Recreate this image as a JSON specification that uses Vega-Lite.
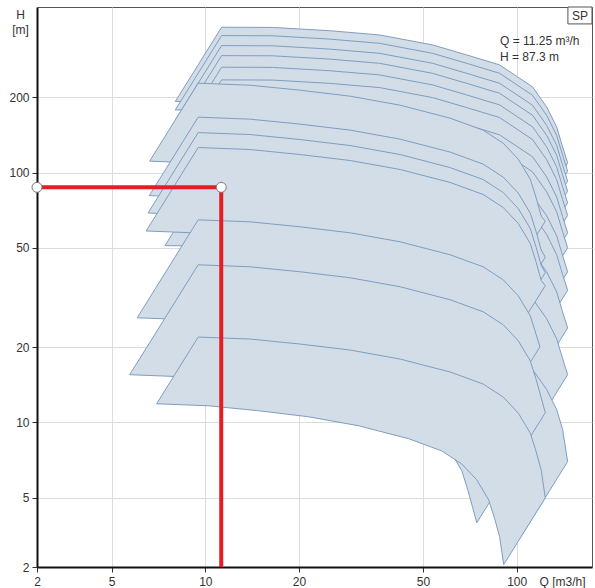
{
"$schema": "https://vega.github.io/schema/vega-lite/v6.json",
"width": 555, "height": 560,
"autosize": {"type": "none"},
"padding": {"left": 37, "top": 7, "right": 3, "bottom": 21},
"background": "white",
"config": {"view": {"stroke": "#555", "strokeWidth": 1}, "font": "Liberation Sans"},
"datasets": {
"poly": [
{"p":1,"q":11.28,"h":381.8},{"p":1,"q":16.45,"h":381.1},{"p":1,"q":25.07,"h":369.7},{"p":1,"q":36.28,"h":355.6},{"p":1,"q":53.73,"h":324.3},{"p":1,"q":69.07,"h":295.8},{"p":1,"q":88.16,"h":269.8},{"p":1,"q":112.5,"h":220.3},{"p":1,"q":124.8,"h":183.3},{"p":1,"q":134.4,"h":152.5},{"p":1,"q":140.5,"h":126.8},{"p":1,"q":145.8,"h":109.4},{"p":1,"q":103.5,"h":55.1},{"p":1,"q":99.76,"h":63.9},{"p":1,"q":95.42,"h":76.9},{"p":1,"q":88.61,"h":92.4},{"p":1,"q":79.88,"h":111.1},{"p":1,"q":62.59,"h":136},{"p":1,"q":49.04,"h":149.1},{"p":1,"q":38.15,"h":163.5},{"p":1,"q":25.76,"h":179.3},{"p":1,"q":17.8,"h":186.4},{"p":1,"q":11.68,"h":192.1},{"p":1,"q":8.009,"h":192.5},{"p":1,"q":11.28,"h":381.8},
{"p":2,"q":11.28,"h":353.4},{"p":2,"q":16.45,"h":352.8},{"p":2,"q":25.07,"h":342.2},{"p":2,"q":36.28,"h":329.2},{"p":2,"q":53.73,"h":300.2},{"p":2,"q":69.07,"h":273.8},{"p":2,"q":88.16,"h":249.7},{"p":2,"q":112.5,"h":203.9},{"p":2,"q":124.8,"h":169.7},{"p":2,"q":134.4,"h":141.1},{"p":2,"q":140.5,"h":117.4},{"p":2,"q":145.8,"h":101.3},{"p":2,"q":103.5,"h":51.1},{"p":2,"q":99.76,"h":59.2},{"p":2,"q":95.42,"h":71.1},{"p":2,"q":88.61,"h":85.5},{"p":2,"q":79.88,"h":102.8},{"p":2,"q":62.59,"h":125.9},{"p":2,"q":49.04,"h":138},{"p":2,"q":38.15,"h":151.3},{"p":2,"q":25.76,"h":166},{"p":2,"q":17.8,"h":172.5},{"p":2,"q":11.68,"h":177.8},{"p":2,"q":8.009,"h":178.2},{"p":2,"q":11.28,"h":353.4},
{"p":3,"q":11.28,"h":322.3},{"p":3,"q":16.45,"h":321.7},{"p":3,"q":25.07,"h":312.1},{"p":3,"q":36.28,"h":300.2},{"p":3,"q":53.73,"h":273.8},{"p":3,"q":69.07,"h":249.7},{"p":3,"q":88.16,"h":227.7},{"p":3,"q":112.5,"h":186},{"p":3,"q":124.8,"h":154.7},{"p":3,"q":134.4,"h":128.7},{"p":3,"q":140.5,"h":107},{"p":3,"q":145.8,"h":92.4},{"p":3,"q":103.5,"h":46.6},{"p":3,"q":99.76,"h":53.9},{"p":3,"q":95.42,"h":64.9},{"p":3,"q":88.61,"h":78},{"p":3,"q":79.88,"h":93.8},{"p":3,"q":62.59,"h":114.8},{"p":3,"q":49.04,"h":125.9},{"p":3,"q":38.15,"h":138},{"p":3,"q":25.76,"h":151.3},{"p":3,"q":17.8,"h":157.3},{"p":3,"q":11.68,"h":162.2},{"p":3,"q":8.009,"h":162.5},{"p":3,"q":11.28,"h":322.3},
{"p":4,"q":11.28,"h":293.9},{"p":4,"q":16.45,"h":293.4},{"p":4,"q":25.07,"h":284.6},{"p":4,"q":36.28,"h":273.8},{"p":4,"q":53.73,"h":249.6},{"p":4,"q":69.07,"h":227.7},{"p":4,"q":88.16,"h":207.7},{"p":4,"q":112.5,"h":169.6},{"p":4,"q":124.8,"h":141.1},{"p":4,"q":134.4,"h":117.4},{"p":4,"q":140.5,"h":97.6},{"p":4,"q":145.8,"h":84.2},{"p":4,"q":103.5,"h":42.4},{"p":4,"q":99.76,"h":49.2},{"p":4,"q":95.42,"h":59.2},{"p":4,"q":88.61,"h":71.1},{"p":4,"q":79.88,"h":85.5},{"p":4,"q":62.59,"h":104.7},{"p":4,"q":49.04,"h":114.8},{"p":4,"q":38.15,"h":125.8},{"p":4,"q":25.76,"h":138},{"p":4,"q":17.8,"h":143.5},{"p":4,"q":11.68,"h":147.9},{"p":4,"q":8.009,"h":148.2},{"p":4,"q":11.28,"h":293.9},
{"p":5,"q":11.28,"h":264.1},{"p":5,"q":16.45,"h":263.6},{"p":5,"q":25.07,"h":255.7},{"p":5,"q":36.28,"h":246},{"p":5,"q":53.73,"h":224.3},{"p":5,"q":69.07,"h":204.6},{"p":5,"q":88.16,"h":186.6},{"p":5,"q":112.5,"h":152.4},{"p":5,"q":124.8,"h":126.8},{"p":5,"q":134.4,"h":105.5},{"p":5,"q":140.5,"h":87.7},{"p":5,"q":145.8,"h":75.7},{"p":5,"q":103.5,"h":38.2},{"p":5,"q":99.76,"h":44.2},{"p":5,"q":95.42,"h":53.2},{"p":5,"q":88.61,"h":63.9},{"p":5,"q":79.88,"h":76.8},{"p":5,"q":62.59,"h":94.1},{"p":5,"q":49.04,"h":103.1},{"p":5,"q":38.15,"h":113.1},{"p":5,"q":25.76,"h":124},{"p":5,"q":17.8,"h":128.9},{"p":5,"q":11.68,"h":132.9},{"p":5,"q":8.009,"h":133.1},{"p":5,"q":11.28,"h":264.1},
{"p":6,"q":11.28,"h":235},{"p":6,"q":16.45,"h":234.6},{"p":6,"q":25.07,"h":227.6},{"p":6,"q":36.28,"h":218.9},{"p":6,"q":53.73,"h":199.6},{"p":6,"q":69.07,"h":182.1},{"p":6,"q":88.16,"h":166.1},{"p":6,"q":112.5,"h":135.6},{"p":6,"q":124.8,"h":112.8},{"p":6,"q":134.4,"h":93.8},{"p":6,"q":140.5,"h":78},{"p":6,"q":145.8,"h":67.4},{"p":6,"q":103.5,"h":34},{"p":6,"q":99.76,"h":39.3},{"p":6,"q":95.42,"h":47.3},{"p":6,"q":88.61,"h":56.9},{"p":6,"q":79.88,"h":68.4},{"p":6,"q":62.59,"h":83.7},{"p":6,"q":49.04,"h":91.8},{"p":6,"q":38.15,"h":100.6},{"p":6,"q":25.76,"h":110.3},{"p":6,"q":17.8,"h":114.7},{"p":6,"q":11.68,"h":118.3},{"p":6,"q":8.009,"h":118.5},{"p":6,"q":11.28,"h":235},
{"p":7,"q":11.28,"h":200.4},{"p":7,"q":16.45,"h":200},{"p":7,"q":25.07,"h":194},{"p":7,"q":36.28,"h":186.7},{"p":7,"q":53.73,"h":170.2},{"p":7,"q":69.07,"h":155.3},{"p":7,"q":88.16,"h":141.6},{"p":7,"q":112.5,"h":115.7},{"p":7,"q":124.8,"h":96.2},{"p":7,"q":134.4,"h":80},{"p":7,"q":140.5,"h":66.6},{"p":7,"q":145.8,"h":57.4},{"p":7,"q":103.5,"h":28.9},{"p":7,"q":99.76,"h":33.6},{"p":7,"q":95.42,"h":40.3},{"p":7,"q":88.61,"h":48.5},{"p":7,"q":79.88,"h":58.3},{"p":7,"q":62.59,"h":71.4},{"p":7,"q":49.04,"h":78.3},{"p":7,"q":38.15,"h":85.8},{"p":7,"q":25.76,"h":94.1},{"p":7,"q":17.8,"h":97.8},{"p":7,"q":11.68,"h":100.8},{"p":7,"q":8.009,"h":101},{"p":7,"q":11.28,"h":200.4},
{"p":8,"q":11.28,"h":174.5},{"p":8,"q":16.45,"h":174.2},{"p":8,"q":25.07,"h":169},{"p":8,"q":36.28,"h":162.5},{"p":8,"q":53.73,"h":148.2},{"p":8,"q":69.07,"h":135.2},{"p":8,"q":88.16,"h":123.3},{"p":8,"q":112.5,"h":100.7},{"p":8,"q":124.8,"h":83.8},{"p":8,"q":134.4,"h":69.7},{"p":8,"q":140.5,"h":58},{"p":8,"q":145.8,"h":50},{"p":8,"q":103.5,"h":25.2},{"p":8,"q":99.76,"h":29.2},{"p":8,"q":95.42,"h":35.1},{"p":8,"q":88.61,"h":42.2},{"p":8,"q":79.88,"h":50.8},{"p":8,"q":62.59,"h":62.2},{"p":8,"q":49.04,"h":68.2},{"p":8,"q":38.15,"h":74.7},{"p":8,"q":25.76,"h":81.9},{"p":8,"q":17.8,"h":85.2},{"p":8,"q":11.68,"h":87.8},{"p":8,"q":8.009,"h":88},{"p":8,"q":11.28,"h":174.5},
{"p":9,"q":11.28,"h":139.9},{"p":9,"q":16.45,"h":139.6},{"p":9,"q":25.07,"h":135.5},{"p":9,"q":36.28,"h":130.3},{"p":9,"q":53.73,"h":118.8},{"p":9,"q":69.07,"h":108.4},{"p":9,"q":88.16,"h":98.9},{"p":9,"q":112.5,"h":80.7},{"p":9,"q":124.8,"h":67.2},{"p":9,"q":134.4,"h":55.9},{"p":9,"q":140.5,"h":46.5},{"p":9,"q":145.8,"h":40.1},{"p":9,"q":103.5,"h":20.2},{"p":9,"q":99.76,"h":23.4},{"p":9,"q":95.42,"h":28.2},{"p":9,"q":88.61,"h":33.9},{"p":9,"q":79.88,"h":40.7},{"p":9,"q":62.59,"h":49.9},{"p":9,"q":49.04,"h":54.6},{"p":9,"q":38.15,"h":59.9},{"p":9,"q":25.76,"h":65.7},{"p":9,"q":17.8,"h":68.3},{"p":9,"q":11.68,"h":70.4},{"p":9,"q":8.009,"h":70.5},{"p":9,"q":11.28,"h":139.9},
{"p":10,"q":11.28,"h":117.8},{"p":10,"q":16.45,"h":117.6},{"p":10,"q":25.07,"h":114.1},{"p":10,"q":36.28,"h":109.7},{"p":10,"q":53.73,"h":100.1},{"p":10,"q":69.07,"h":91.3},{"p":10,"q":88.16,"h":83.2},{"p":10,"q":112.5,"h":68},{"p":10,"q":124.8,"h":56.6},{"p":10,"q":134.4,"h":47},{"p":10,"q":140.5,"h":39.1},{"p":10,"q":145.8,"h":33.8},{"p":10,"q":95.9,"h":14.6},{"p":10,"q":92.41,"h":16.9},{"p":10,"q":88.4,"h":20.3},{"p":10,"q":82.08,"h":24.5},{"p":10,"q":73.99,"h":29.4},{"p":10,"q":57.98,"h":36},{"p":10,"q":45.43,"h":39.5},{"p":10,"q":35.34,"h":43.3},{"p":10,"q":23.86,"h":47.5},{"p":10,"q":16.49,"h":49.4},{"p":10,"q":10.82,"h":50.9},{"p":10,"q":7.419,"h":51},{"p":10,"q":11.28,"h":117.8},
{"p":11,"q":11.28,"h":83.5},{"p":11,"q":16.45,"h":83.3},{"p":11,"q":25.07,"h":80.9},{"p":11,"q":36.28,"h":77.8},{"p":11,"q":53.73,"h":70.9},{"p":11,"q":69.07,"h":64.7},{"p":11,"q":88.16,"h":59},{"p":11,"q":112.5,"h":48.2},{"p":11,"q":124.8,"h":40.1},{"p":11,"q":134.4,"h":33.3},{"p":11,"q":140.5,"h":27.7},{"p":11,"q":145.8,"h":23.9},{"p":11,"q":103.5,"h":12},{"p":11,"q":99.76,"h":14},{"p":11,"q":95.42,"h":16.8},{"p":11,"q":88.61,"h":20.2},{"p":11,"q":79.88,"h":24.3},{"p":11,"q":62.59,"h":29.7},{"p":11,"q":49.04,"h":32.6},{"p":11,"q":38.15,"h":35.7},{"p":11,"q":25.76,"h":39.2},{"p":11,"q":17.8,"h":40.8},{"p":11,"q":11.68,"h":42},{"p":11,"q":8.009,"h":42.1},{"p":11,"q":11.28,"h":83.5},
{"p":12,"q":11.28,"h":54.19},{"p":12,"q":16.45,"h":54.09},{"p":12,"q":25.07,"h":52.47},{"p":12,"q":36.28,"h":50.48},{"p":12,"q":53.73,"h":46.03},{"p":12,"q":69.07,"h":41.98},{"p":12,"q":88.16,"h":38.29},{"p":12,"q":112.5,"h":31.27},{"p":12,"q":124.8,"h":26.02},{"p":12,"q":134.4,"h":21.64},{"p":12,"q":140.5,"h":18},{"p":12,"q":145.8,"h":15.53},{"p":12,"q":103.5,"h":7.83},{"p":12,"q":99.76,"h":9.07},{"p":12,"q":95.42,"h":10.91},{"p":12,"q":88.61,"h":13.12},{"p":12,"q":79.88,"h":15.76},{"p":12,"q":62.59,"h":19.3},{"p":12,"q":49.04,"h":21.16},{"p":12,"q":38.15,"h":23.2},{"p":12,"q":25.76,"h":25.45},{"p":12,"q":17.8,"h":26.45},{"p":12,"q":11.68,"h":27.27},{"p":12,"q":8.009,"h":27.32},{"p":12,"q":11.28,"h":54.19},
{"p":13,"q":11.28,"h":28.25},{"p":13,"q":16.45,"h":28.2},{"p":13,"q":25.07,"h":27.35},{"p":13,"q":36.28,"h":26.32},{"p":13,"q":53.73,"h":24},{"p":13,"q":69.07,"h":21.89},{"p":13,"q":88.16,"h":19.96},{"p":13,"q":112.5,"h":16.3},{"p":13,"q":124.8,"h":13.56},{"p":13,"q":134.4,"h":11.28},{"p":13,"q":140.5,"h":9.38},{"p":13,"q":145.8,"h":6.97},{"p":13,"q":103.5,"h":3.51},{"p":13,"q":99.76,"h":4.73},{"p":13,"q":95.42,"h":5.69},{"p":13,"q":88.61,"h":6.84},{"p":13,"q":79.88,"h":8.22},{"p":13,"q":62.59,"h":10.06},{"p":13,"q":49.04,"h":11.03},{"p":13,"q":38.15,"h":12.1},{"p":13,"q":25.76,"h":13.27},{"p":13,"q":17.8,"h":13.79},{"p":13,"q":11.68,"h":14.22},{"p":13,"q":8.009,"h":14.24},{"p":13,"q":11.28,"h":28.25},
{"p":14,"q":9.486,"h":227.9},{"p":14,"q":13.94,"h":223.7},{"p":14,"q":20.17,"h":213.7},{"p":14,"q":29.2,"h":202.2},{"p":14,"q":42.27,"h":186.1},{"p":14,"q":61.18,"h":165.1},{"p":14,"q":78.08,"h":147.8},{"p":14,"q":90.56,"h":131.1},{"p":14,"q":101.2,"h":113.2},{"p":14,"q":110.6,"h":94.1},{"p":14,"q":115.6,"h":79},{"p":14,"q":119.9,"h":67},{"p":14,"q":123.6,"h":63.9},{"p":14,"q":86.3,"h":31.2},{"p":14,"q":83.71,"h":32.7},{"p":14,"q":80.71,"h":38.5},{"p":14,"q":77.22,"h":45.9},{"p":14,"q":70.66,"h":55.2},{"p":14,"q":63.23,"h":63.9},{"p":14,"q":54.52,"h":72.1},{"p":14,"q":42.72,"h":80.5},{"p":14,"q":29.51,"h":90.7},{"p":14,"q":20.39,"h":98.6},{"p":14,"q":14.08,"h":104.2},{"p":14,"q":9.733,"h":109.1},{"p":14,"q":6.623,"h":111.1},{"p":14,"q":9.486,"h":227.9},
{"p":15,"q":9.486,"h":166.7},{"p":15,"q":13.94,"h":163.6},{"p":15,"q":20.17,"h":156.3},{"p":15,"q":29.2,"h":147.9},{"p":15,"q":42.27,"h":136.1},{"p":15,"q":61.18,"h":120.8},{"p":15,"q":78.08,"h":108.1},{"p":15,"q":90.56,"h":95.9},{"p":15,"q":101.2,"h":82.8},{"p":15,"q":110.6,"h":68.8},{"p":15,"q":115.6,"h":57.8},{"p":15,"q":119.9,"h":49},{"p":15,"q":123.6,"h":45.9},{"p":15,"q":86.1,"h":22.3},{"p":15,"q":83.52,"h":23.8},{"p":15,"q":80.53,"h":28.1},{"p":15,"q":77.04,"h":33.4},{"p":15,"q":70.5,"h":40.2},{"p":15,"q":63.08,"h":46.5},{"p":15,"q":54.39,"h":52.5},{"p":15,"q":42.62,"h":58.6},{"p":15,"q":29.45,"h":66},{"p":15,"q":20.34,"h":71.8},{"p":15,"q":14.05,"h":75.9},{"p":15,"q":9.711,"h":79.4},{"p":15,"q":6.608,"h":80.9},{"p":15,"q":9.486,"h":166.7},
{"p":16,"q":9.486,"h":144.6},{"p":16,"q":13.94,"h":142},{"p":16,"q":20.17,"h":135.6},{"p":16,"q":29.2,"h":128.3},{"p":16,"q":42.27,"h":118.1},{"p":16,"q":61.18,"h":104.7},{"p":16,"q":78.08,"h":93.8},{"p":16,"q":90.56,"h":83.2},{"p":16,"q":101.2,"h":71.8},{"p":16,"q":110.6,"h":59.7},{"p":16,"q":115.6,"h":50.1},{"p":16,"q":119.9,"h":42.5},{"p":16,"q":123.6,"h":39.8},{"p":16,"q":85.31,"h":19},{"p":16,"q":82.75,"h":20.2},{"p":16,"q":79.79,"h":23.9},{"p":16,"q":76.34,"h":28.4},{"p":16,"q":69.85,"h":34.2},{"p":16,"q":62.5,"h":39.6},{"p":16,"q":53.89,"h":44.7},{"p":16,"q":42.23,"h":49.9},{"p":16,"q":29.17,"h":56.3},{"p":16,"q":20.15,"h":61.1},{"p":16,"q":13.92,"h":64.6},{"p":16,"q":9.621,"h":67.6},{"p":16,"q":6.547,"h":68.9},{"p":16,"q":9.486,"h":144.6},
{"p":17,"q":9.486,"h":126},{"p":17,"q":13.94,"h":123.7},{"p":17,"q":20.17,"h":118.1},{"p":17,"q":29.2,"h":111.8},{"p":17,"q":42.27,"h":102.9},{"p":17,"q":61.18,"h":91.3},{"p":17,"q":78.08,"h":81.7},{"p":17,"q":90.56,"h":72.5},{"p":17,"q":101.2,"h":62.6},{"p":17,"q":110.6,"h":52},{"p":17,"q":115.6,"h":43.7},{"p":17,"q":119.9,"h":37},{"p":17,"q":123.6,"h":35.3},{"p":17,"q":84.15,"h":16.4},{"p":17,"q":81.63,"h":17.1},{"p":17,"q":78.7,"h":20.2},{"p":17,"q":75.3,"h":24.1},{"p":17,"q":68.9,"h":29},{"p":17,"q":61.65,"h":33.6},{"p":17,"q":53.16,"h":37.9},{"p":17,"q":41.65,"h":42.3},{"p":17,"q":28.78,"h":47.7},{"p":17,"q":19.88,"h":51.8},{"p":17,"q":13.73,"h":54.7},{"p":17,"q":9.49,"h":57.3},{"p":17,"q":6.458,"h":58.4},{"p":17,"q":9.486,"h":126},
{"p":18,"q":9.486,"h":64.71},{"p":18,"q":13.94,"h":63.53},{"p":18,"q":20.17,"h":60.67},{"p":18,"q":29.2,"h":57.41},{"p":18,"q":42.27,"h":52.84},{"p":18,"q":61.18,"h":46.88},{"p":18,"q":78.08,"h":41.97},{"p":18,"q":90.56,"h":37.23},{"p":18,"q":101.2,"h":32.13},{"p":18,"q":110.6,"h":26.73},{"p":18,"q":115.6,"h":22.43},{"p":18,"q":118.8,"h":20.09},{"p":18,"q":75.65,"h":8.15},{"p":18,"q":73.61,"h":9.1},{"p":18,"q":70.43,"h":10.84},{"p":18,"q":64.44,"h":13.03},{"p":18,"q":57.67,"h":15.1},{"p":18,"q":49.72,"h":17.02},{"p":18,"q":38.96,"h":19.01},{"p":18,"q":26.92,"h":21.43},{"p":18,"q":18.59,"h":23.28},{"p":18,"q":12.84,"h":24.6},{"p":18,"q":8.877,"h":25.76},{"p":18,"q":6.041,"h":26.24},{"p":18,"q":9.486,"h":64.71},
{"p":19,"q":9.486,"h":42.76},{"p":19,"q":13.94,"h":41.98},{"p":19,"q":20.17,"h":40.09},{"p":19,"q":29.2,"h":37.94},{"p":19,"q":42.27,"h":34.92},{"p":19,"q":61.18,"h":30.98},{"p":19,"q":78.08,"h":27.73},{"p":19,"q":90.56,"h":24.6},{"p":19,"q":101.2,"h":21.23},{"p":19,"q":110.6,"h":17.66},{"p":19,"q":115.6,"h":14.82},{"p":19,"q":119.9,"h":12.56},{"p":19,"q":123.6,"h":10.94},{"p":19,"q":74.48,"h":3.97},{"p":19,"q":72.25,"h":4.56},{"p":19,"q":69.66,"h":5.38},{"p":19,"q":66.65,"h":6.41},{"p":19,"q":60.98,"h":7.71},{"p":19,"q":54.57,"h":8.93},{"p":19,"q":47.05,"h":10.07},{"p":19,"q":36.87,"h":11.25},{"p":19,"q":25.47,"h":12.68},{"p":19,"q":17.6,"h":13.78},{"p":19,"q":12.15,"h":14.56},{"p":19,"q":8.4,"h":15.24},{"p":19,"q":5.716,"h":15.53},{"p":19,"q":9.486,"h":42.76},
{"p":20,"q":9.486,"h":21.97},{"p":20,"q":13.94,"h":21.57},{"p":20,"q":20.17,"h":20.6},{"p":20,"q":29.2,"h":19.49},{"p":20,"q":42.27,"h":17.94},{"p":20,"q":61.18,"h":15.92},{"p":20,"q":78.08,"h":14.25},{"p":20,"q":90.56,"h":12.64},{"p":20,"q":101.2,"h":10.91},{"p":20,"q":110.6,"h":9.07},{"p":20,"q":115.6,"h":7.62},{"p":20,"q":119.9,"h":6.45},{"p":20,"q":123.6,"h":4.99},{"p":20,"q":90.88,"h":2.7},{"p":20,"q":88.16,"h":3.49},{"p":20,"q":85,"h":4.12},{"p":20,"q":81.32,"h":4.9},{"p":20,"q":74.41,"h":5.9},{"p":20,"q":66.59,"h":6.83},{"p":20,"q":57.41,"h":7.7},{"p":20,"q":44.99,"h":8.61},{"p":20,"q":31.08,"h":9.7},{"p":20,"q":21.47,"h":10.54},{"p":20,"q":14.83,"h":11.14},{"p":20,"q":10.25,"h":11.66},{"p":20,"q":6.975,"h":11.88},{"p":20,"q":9.486,"h":21.97}
],
"red": [{"q":2.88,"h":87.3},{"q":11.25,"h":87.3},{"q":11.25,"h":2.64}],
"pts": [{"q":2.88,"h":87.3},{"q":11.25,"h":87.3}],
"txt": [{"q":88.4,"h":336.5,"t":"Q = 11.25 m³/h"},{"q":88.4,"h":290.4,"t":"H = 87.3 m"}],
"box": [{"q":146.1,"q2":174.6,"h":393.6,"h2":460}],
"boxt": [{"q":159.7,"h":423.6,"t":"SP"}]
},
"encoding": {
"x": {"field": "q", "type": "quantitative",
 "scale": {"type": "log", "domain": [2.88, 174.6], "nice": false},
 "axis": {"values": [2.88, 5, 10, 20, 50, 100], "labelExpr": "datum.value < 3 ? '2' : format(datum.value, 'd')",
  "title": "Q [m3/h]", "titleX": 525, "titleY": 9, "titleAlign": "center", "titleBaseline": "top",
  "titleFontWeight": "normal", "titleFontSize": 12, "titleColor": "#333",
  "grid": true, "gridColor": "#dcdcdc", "gridWidth": 1, "domainColor": "#111", "domainWidth": 2,
  "tickColor": "#333", "tickSize": 5, "labelFontSize": 12, "labelColor": "#333", "labelPadding": 4,
  "labelFlush": false, "labelOverlap": false}},
"y": {"field": "h", "type": "quantitative",
 "scale": {"type": "log", "domain": [2.64, 460], "nice": false},
 "axis": {"values": [2.64, 5, 10, 20, 50, 100, 200], "labelExpr": "datum.value < 3 ? '2' : format(datum.value, 'd')",
  "title": ["H", "[m]"], "titleAngle": 0, "titleX": -17, "titleY": 2, "titleAlign": "center", "titleBaseline": "top",
  "titleLineHeight": 15, "titleFontWeight": "normal", "titleFontSize": 12, "titleColor": "#333",
  "grid": true, "gridColor": "#dcdcdc", "gridWidth": 1, "domainColor": "#111", "domainWidth": 2,
  "tickColor": "#333", "tickSize": 5, "labelFontSize": 12, "labelColor": "#333", "labelPadding": 3,
  "labelFlush": false, "labelOverlap": false}}
},
"layer": [
{"data": {"name": "poly"},
 "mark": {"type": "line", "fill": "#d2dde8", "stroke": "#7f9dc0", "strokeWidth": 1, "clip": true, "strokeJoin": "round"},
 "encoding": {"detail": {"field": "p", "type": "nominal"}, "order": {"value": null}}},
{"data": {"name": "red"},
 "mark": {"type": "line", "stroke": "#e31e24", "strokeWidth": 4},
 "encoding": {"order": {"value": null}}},
{"data": {"name": "pts"},
 "mark": {"type": "point", "filled": true, "fill": "white", "stroke": "#777", "strokeWidth": 1, "size": 100, "opacity": 1},
 "encoding": {}},
{"data": {"name": "txt"},
 "mark": {"type": "text", "align": "left", "baseline": "middle", "fontSize": 12, "color": "#333"},
 "encoding": {"text": {"field": "t"}}},
{"data": {"name": "box"},
 "mark": {"type": "rect", "fill": "white", "stroke": "#555", "strokeWidth": 1},
 "encoding": {"x2": {"field": "q2"}, "y2": {"field": "h2"}}},
{"data": {"name": "boxt"},
 "mark": {"type": "text", "align": "center", "baseline": "middle", "fontSize": 12, "color": "#333"},
 "encoding": {"text": {"field": "t"}}}
]
}
